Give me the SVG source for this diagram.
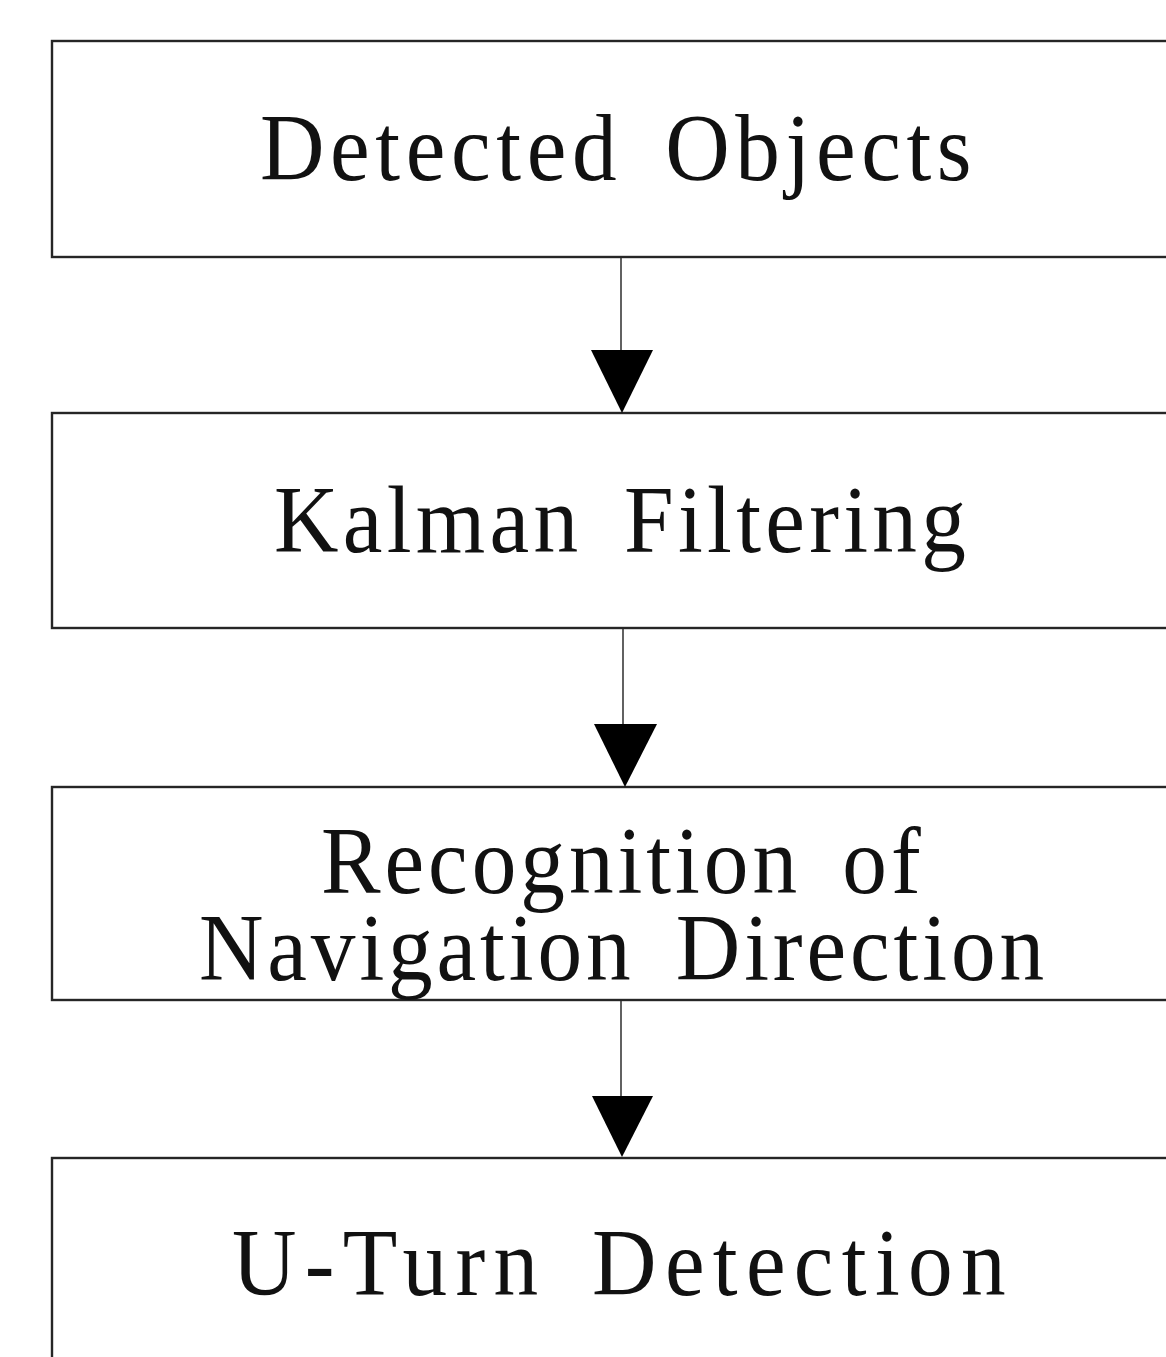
<svg xmlns="http://www.w3.org/2000/svg" width="1166" height="1357" viewBox="0 0 1166 1357">
  <style>
    .box { fill: #ffffff; stroke: #262626; stroke-width: 2.4; }
    .label { font-family: "Liberation Serif", "DejaVu Serif", serif; font-size: 95px; fill: #111111; word-spacing: 16px; }
    .link { stroke: #3a3a3a; stroke-width: 1.6; fill: none; }
    .head { fill: #000000; stroke: none; }
  </style>
  <rect width="1166" height="1357" fill="#ffffff"/>

  <!-- labels are set in a slightly condensed serif: each text is squeezed to 94% width -->
  <g id="node-detected-objects">
    <rect class="box" x="52" y="41" width="1130" height="216"/>
    <text class="label" transform="translate(260,180) scale(0.94,1)" x="0" y="0" textLength="757" lengthAdjust="spacing">Detected Objects</text>
  </g>

  <g id="node-kalman-filtering">
    <rect class="box" x="52" y="413" width="1130" height="215"/>
    <text class="label" transform="translate(274,552) scale(0.94,1)" x="0" y="0" textLength="736" lengthAdjust="spacing">Kalman Filtering</text>
  </g>

  <g id="node-navigation-direction">
    <rect class="box" x="52" y="787" width="1130" height="213"/>
    <text class="label" transform="translate(321,893) scale(0.94,1)" x="0" y="0" textLength="638" lengthAdjust="spacing">Recognition of</text>
    <text class="label" transform="translate(199,980) scale(0.94,1)" x="0" y="0" textLength="899" lengthAdjust="spacing">Navigation Direction</text>
  </g>

  <g id="node-u-turn-detection">
    <rect class="box" x="52" y="1158" width="1130" height="230"/>
    <text class="label" transform="translate(232,1295) scale(0.94,1)" x="0" y="0" textLength="823" lengthAdjust="spacing">U-Turn Detection</text>
  </g>

  <g id="connectors">
    <line class="link" x1="621" y1="258" x2="621" y2="352"/>
    <polygon class="head" points="591,350 653,350 622,413"/>
    <line class="link" x1="623" y1="629" x2="623" y2="726"/>
    <polygon class="head" points="594,724 657,724 625,787"/>
    <line class="link" x1="621" y1="1001" x2="621" y2="1098"/>
    <polygon class="head" points="592,1096 653,1096 622,1157"/>
  </g>
</svg>
